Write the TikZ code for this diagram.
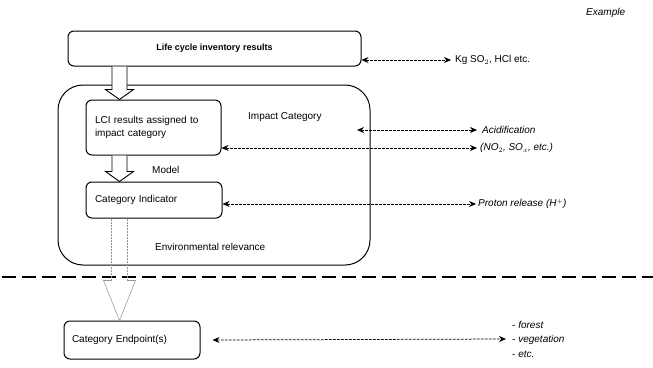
\documentclass[tikz,border=0pt]{standalone}
\usepackage{fontspec}
\setmainfont{Liberation Sans}
\usetikzlibrary{arrows.meta,calc}
\begin{document}
\begin{tikzpicture}[x=1pt,y=-1pt,
  font=\fontsize{10}{13.5}\selectfont,
  box/.style={draw, line width=1pt, rounded corners=6pt, inner sep=0pt},
  bigbox/.style={draw, line width=1pt, rounded corners=25pt, inner sep=0pt},
  hollow/.style={draw, line width=0.9pt, fill=white, line join=miter},
  faint/.style={draw=gray!85, line width=0.55pt},
  darr/.style={dash pattern=on 2.6pt off 1.4pt, line width=0.75pt,
    {Stealth[length=7pt,width=6pt]}-{Stealth[length=7pt,width=6pt]}},
  lbl/.style={inner sep=0pt, anchor=west}]
\useasboundingbox (0,0) rectangle (653,367);

% label top right
\node[lbl] (ex) at (586,13) {\itshape Example};

% boxes
\node[box, minimum width=293pt, minimum height=35pt] (lci) at (214.5,48.5) {\fontsize{9}{11}\selectfont\bfseries Life cycle inventory results};
\node[bigbox, minimum width=312pt, minimum height=180pt] (imp) at (214,175) {};
\node[box, minimum width=135pt, minimum height=55pt, text width=117pt, align=left] (asg) at (153.5,127.5) {LCI results assigned to\\impact category};
\node[box, minimum width=136pt, minimum height=36pt, text width=118pt, align=left] (ind) at (154,200) {Category Indicator};
\node[box, minimum width=136pt, minimum height=38pt, text width=120pt, align=left] (endp) at (132,340) {Category Endpoint(s)};

% texts inside the big box
\node[lbl] (ic) at (248,117) {Impact Category};
\node[lbl] (model) at (152,170) {Model};
\node[lbl] (env) at (155,247) {Environmental relevance};

% right column
\node[lbl] (kg) at (455,60) {Kg SO$_2$, HCl etc.};
\node[lbl] (acid) at (482,130) {\itshape Acidification};
\node[lbl] (nox) at (480,148) {\itshape (NO$_2$, SO$_x$, etc.)};
\node[lbl] (prot) at (478,204) {\itshape Proton release (H$^+$)};
\node[lbl, align=left, font=\fontsize{10}{14.5}\selectfont] (list) at (512,339) {- \itshape forest\\- \itshape vegetation\\- \itshape etc.};
\coordinate (acl) at (357,130);

% separator
\coordinate (sepl) at (2,277);
\coordinate (sepr) at (653,277);
\draw[line width=1.4pt, dash pattern=on 14pt off 6pt] (sepl) -- (sepr);

% block arrows
\coordinate (ax) at (119.5,0);
\draw[hollow] ($(ax |- lci.south)+(-7.5,0)$) -- ($(ax |- asg.north)+(-7.5,-10)$) -- ($(ax |- asg.north)+(-14,-10)$)
  -- (ax |- asg.north) -- ($(ax |- asg.north)+(14,-10)$) -- ($(ax |- asg.north)+(7.5,-10)$) -- ($(ax |- lci.south)+(7.5,0)$);
\draw[hollow] ($(ax |- asg.south)+(-7.5,0)$) -- ($(ax |- ind.north)+(-7.5,-10)$) -- ($(ax |- ind.north)+(-14,-10)$)
  -- (ax |- ind.north) -- ($(ax |- ind.north)+(14,-10)$) -- ($(ax |- ind.north)+(7.5,-10)$) -- ($(ax |- asg.south)+(7.5,0)$);
\draw[faint, dash pattern=on 2pt off 1pt] ($(ax |- ind.south)+(-8,0)$) -- ($(ax |- endp.north)+(-8,-40)$);
\draw[faint, dash pattern=on 2pt off 1pt] ($(ax |- ind.south)+(8,0)$) -- ($(ax |- endp.north)+(8,-40)$);
\draw[faint] ($(ax |- endp.north)+(-8,-40)$) -- ($(ax |- endp.north)+(-16,-40)$) -- (ax |- endp.north)
  -- ($(ax |- endp.north)+(16,-40)$) -- ($(ax |- endp.north)+(8,-40)$);

% dashed double arrows
\draw[darr] (lci.east |- kg) -- ([xshift=-4pt]kg.west);
\draw[darr] (acl) -- ([xshift=-5pt]acid.west);
\draw[darr] (asg.east |- nox) -- ([xshift=-3pt]nox.west);
\draw[darr] (ind.east |- prot) -- ([xshift=-2pt]prot.west);
\draw[darr] ([xshift=12pt]endp.east) -- ([xshift=-6pt]list.west);
\end{tikzpicture}
\end{document}
